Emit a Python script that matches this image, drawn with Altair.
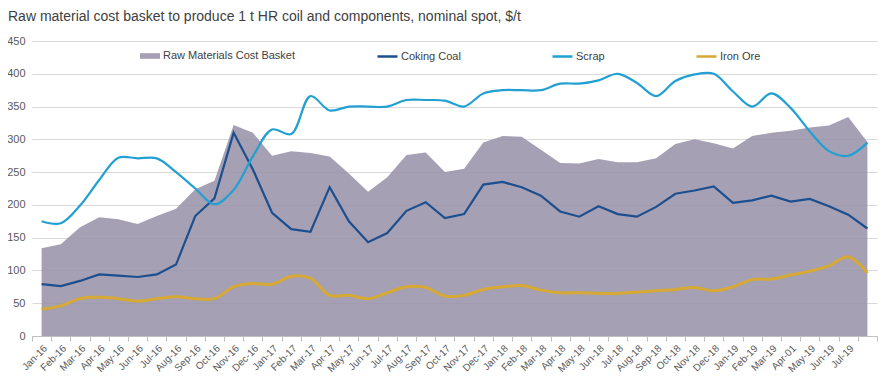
import altair as alt
import pandas as pd

months = ["Jan-16", "Feb-16", "Mar-16", "Apr-16", "May-16", "Jun-16", "Jul-16", "Aug-16",
          "Sep-16", "Oct-16", "Nov-16", "Dec-16", "Jan-17", "Feb-17", "Mar-17", "Apr-17",
          "May-17", "Jun-17", "Jul-17", "Aug-17", "Sep-17", "Oct-17", "Nov-17", "Dec-17",
          "Jan-18", "Feb-18", "Mar-18", "Apr-18", "May-18", "Jun-18", "Jul-18", "Aug-18",
          "Sep-18", "Oct-18", "Nov-18", "Dec-18", "Jan-19", "Feb-19", "Mar-19", "Apr-01",
          "May-19", "Jun-19", "Jul-19", "Aug-19"]

basket = [134, 140, 166, 181, 178, 171, 183, 194, 224, 237, 322,
          310, 275, 282, 279, 274, 248, 220, 242, 276, 280, 250,
          255, 295, 305, 304, 284, 264, 263, 270, 265, 265, 271,
          293, 300, 294, 286, 305, 310, 313, 318, 321, 334, 296]

coking = [79, 76, 84, 94, 92, 90, 94, 109, 183, 210, 310,
          254, 188, 163, 159, 227, 175, 143, 157, 191, 204, 180,
          186, 231, 235, 227, 214, 190, 182, 198, 186, 182, 197,
          217, 222, 228, 203, 207, 214, 205, 209, 198, 185, 164]

scrap = [175, 172, 199, 238, 272, 271, 271, 250, 225, 201, 223,
         274, 315, 308, 366, 344, 350, 350, 350, 360, 360, 359,
         350, 370, 375, 375, 375, 385, 385, 390, 400, 386, 366,
         389, 399, 400, 373, 350, 370, 348, 312, 282, 275, 295]

iron = [41, 46, 57, 59, 57, 53, 57, 60, 57, 57, 75,
        80, 79, 91, 88, 62, 62, 57, 66, 75, 74, 61,
        62, 71, 75, 77, 70, 66, 66, 65, 65, 67, 69,
        71, 74, 69, 75, 86, 87, 93, 99, 107, 121, 96]

hidden_label = "Aug-19"

basket_name = "Raw Materials Cost Basket"
line_names = ["Coking Coal", "Scrap", "Iron Ore"]
line_colors = ["#1D4F8E", "#22A0D3", "#D6A934"]

df_basket = pd.DataFrame({"Month": months, "Value": basket, "Series": basket_name})
df_lines = pd.concat([
    pd.DataFrame({"Month": months, "Value": coking, "Series": "Coking Coal"}),
    pd.DataFrame({"Month": months, "Value": scrap, "Series": "Scrap"}),
    pd.DataFrame({"Month": months, "Value": iron, "Series": "Iron Ore"}),
])

font = "Liberation Sans"

x_enc = alt.X(
    "Month:N", sort=months, bandPosition=0.5, title=None,
    scale=alt.Scale(paddingInner=0, paddingOuter=0),
    axis=alt.Axis(
        labelAngle=315, labelAlign="right", labelBaseline="top",
        labelFontSize=10, labelColor="#595959", labelFont=font, labelPadding=2,
        labelExpr=f"datum.value == '{hidden_label}' ? '' : datum.value",
        tickBand="extent", tickSize=5, tickColor="#BFBFBF",
        domainColor="#BFBFBF", grid=False, labelOverlap=False,
    ),
)
y_enc = alt.Y(
    "Value:Q", title=None,
    scale=alt.Scale(domain=[0, 450], nice=False),
    axis=alt.Axis(
        values=list(range(0, 451, 50)), labelFontSize=11, labelColor="#595959",
        labelFont=font, labelPadding=7, ticks=False, domain=False,
        grid=True, gridColor="#D9D9D9", gridWidth=1,
    ),
)

area = alt.Chart(df_basket).mark_area(opacity=0.85).encode(
    x=x_enc, y=y_enc,
    fill=alt.Fill(
        "Series:N",
        scale=alt.Scale(domain=[basket_name], range=["#958FA7"]),
        legend=alt.Legend(
            title=None, orient="none", legendX=107, legendY=4,
            symbolType="M-1,-0.28H1V0.28H-1Z", symbolSize=400,
            symbolOpacity=0.85, labelFontSize=11, labelColor="#404040",
            labelFont=font, labelOffset=2,
        ),
    ),
)

stroke_enc = alt.Stroke(
    "Series:N",
    scale=alt.Scale(domain=line_names, range=line_colors),
    legend=alt.Legend(
        title=None, orient="none", legendX=344, legendY=4, direction="horizontal",
        symbolType="stroke", symbolSize=400, symbolStrokeWidth=2.5,
        labelFontSize=11, labelColor="#404040", labelFont=font, labelOffset=2,
        columnPadding=86, gridAlign="none",
    ),
)

coal_line = alt.Chart(df_lines).transform_filter(
    alt.datum.Series == "Coking Coal"
).mark_line(strokeWidth=2.2).encode(x=x_enc, y=y_enc, stroke=stroke_enc)

scrap_line = alt.Chart(df_lines).transform_filter(
    alt.datum.Series == "Scrap"
).mark_line(strokeWidth=2.2, interpolate="catmull-rom").encode(x=x_enc, y=y_enc, stroke=stroke_enc)

iron_line = alt.Chart(df_lines).transform_filter(
    alt.datum.Series == "Iron Ore"
).mark_line(strokeWidth=3, interpolate="catmull-rom").encode(x=x_enc, y=y_enc, stroke=stroke_enc)

chart = alt.layer(area, coal_line, scrap_line, iron_line).properties(
    width=845, height=295,
    autosize=alt.AutoSizeParams(type="none"),
    padding={"left": 24, "top": 33, "right": 5, "bottom": 40},
    title=alt.TitleParams(
        "Raw material cost basket to produce 1 t HR coil and components, nominal spot, $/t",
        anchor="start", frame="group", dx=-24, offset=11,
        fontSize=14, font=font, fontWeight="normal", color="#404040",
    ),
).configure_view(stroke=None)

chart.save("out.html", embed_options={"renderer": "svg", "actions": False})
